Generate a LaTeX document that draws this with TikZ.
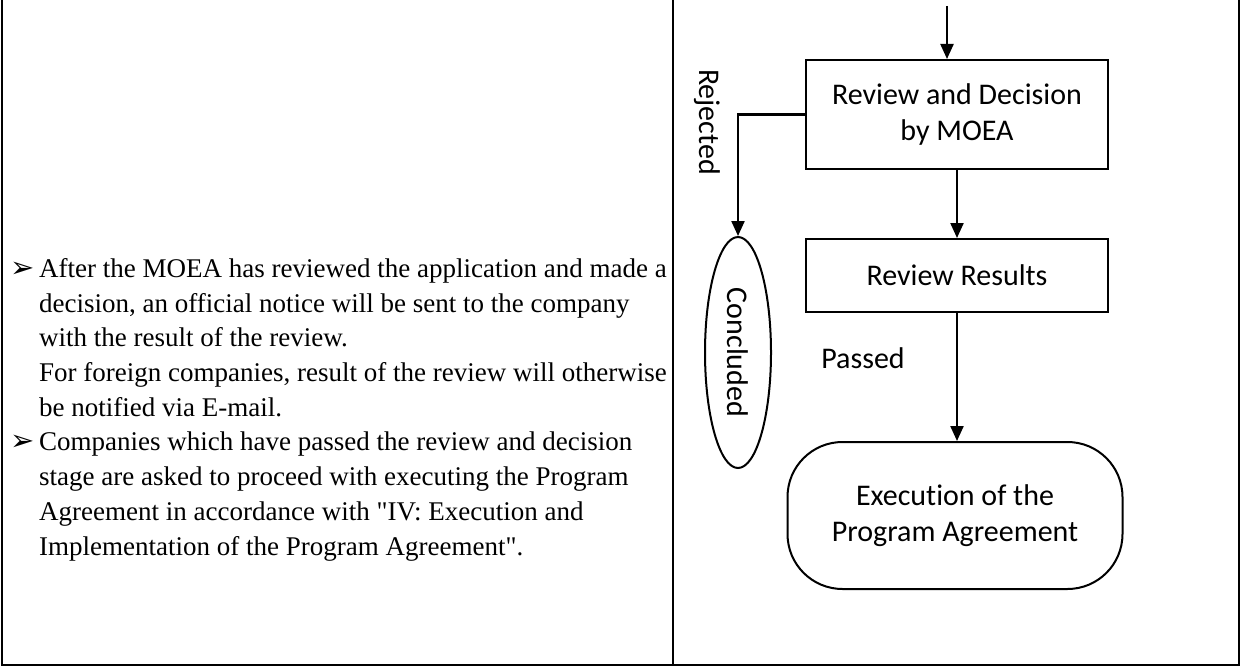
\documentclass[tikz,border=0pt]{standalone}
\usepackage{fontspec}
\setmainfont{Liberation Serif}
\newfontfamily\flowfont[Ligatures=NoCommon]{Carlito}
\newfontfamily\symfont{DejaVu Sans}
\usetikzlibrary{shapes.geometric,arrows.meta,positioning}

\newcommand{\bul}{\makebox[29pt][l]{\symfont\fontsize{29}{29}\selectfont ➢}}
\newcommand{\ind}{\hspace*{29pt}}

\begin{document}
\begin{tikzpicture}[x=1pt,y=-1pt,
    frame/.style = {line width=2.8pt},
    box/.style = {draw, line width=2pt, minimum width=302pt,
      align=center, font=\flowfont\fontsize{30}{36}\selectfont},
    lbl/.style = {font=\flowfont\fontsize{30}{36}\selectfont},
    arr/.style = {line width=2.2pt, -{Triangle[length=15pt,width=13pt]}}]
  \useasboundingbox (0,0) rectangle (1242,666);
  % table
  \draw[frame] (2,0) -- (2,665) -- (1239,665) -- (1239,0);
  \draw[frame] (673,0) -- (673,665);
  % notes
  \node[anchor=base west, align=left, inner sep=0pt,
    font=\fontsize{27}{34.7}\selectfont] (notes) at (10,555)
    {\bul After the MOEA has reviewed the application and made a\\
     \ind decision, an official notice will be sent to the company\\
     \ind with the result of the review.\\
     \ind For foreign companies, result of the review will otherwise\\
     \ind be notified via E-mail.\\
     \bul Companies which have passed the review and decision\\
     \ind stage are asked to proceed with executing the Program\\
     \ind Agreement in accordance with \textquotedbl IV: Execution and\\
     \ind Implementation of the Program Agreement\textquotedbl.};
  % flow
  \node[box, minimum height=109pt] (decide) at (957,114.5) {Review and Decision\\by MOEA};
  \node[box, minimum height=73pt] (results) at (957,275.5) {Review Results};
  \node[draw, ellipse, line width=2pt, inner sep=0pt,
    minimum width=66pt, minimum height=231pt] (concl) at (738,352.5) {};
  \node[lbl, rotate=-90] (concltext) at (concl.center) {Concluded};
  \node[box, rounded corners=55pt, minimum width=335pt,
    minimum height=147pt] (exec) at (955,515.5) {Execution of the\\Program Agreement};
  \node[lbl, rotate=-90] (rejected) at (707,122) {Rejected};
  \node[lbl] (passed) at (863,358) {Passed};
  \coordinate (in) at (947,6);
  \draw[arr] (in) -- (in |- decide.north);
  \draw[arr] (decide) -- (results);
  \draw[arr] (results.south) -- (results.south |- exec.north);
  \draw[arr] (decide.west) -| (concl.north);
\end{tikzpicture}
\end{document}
